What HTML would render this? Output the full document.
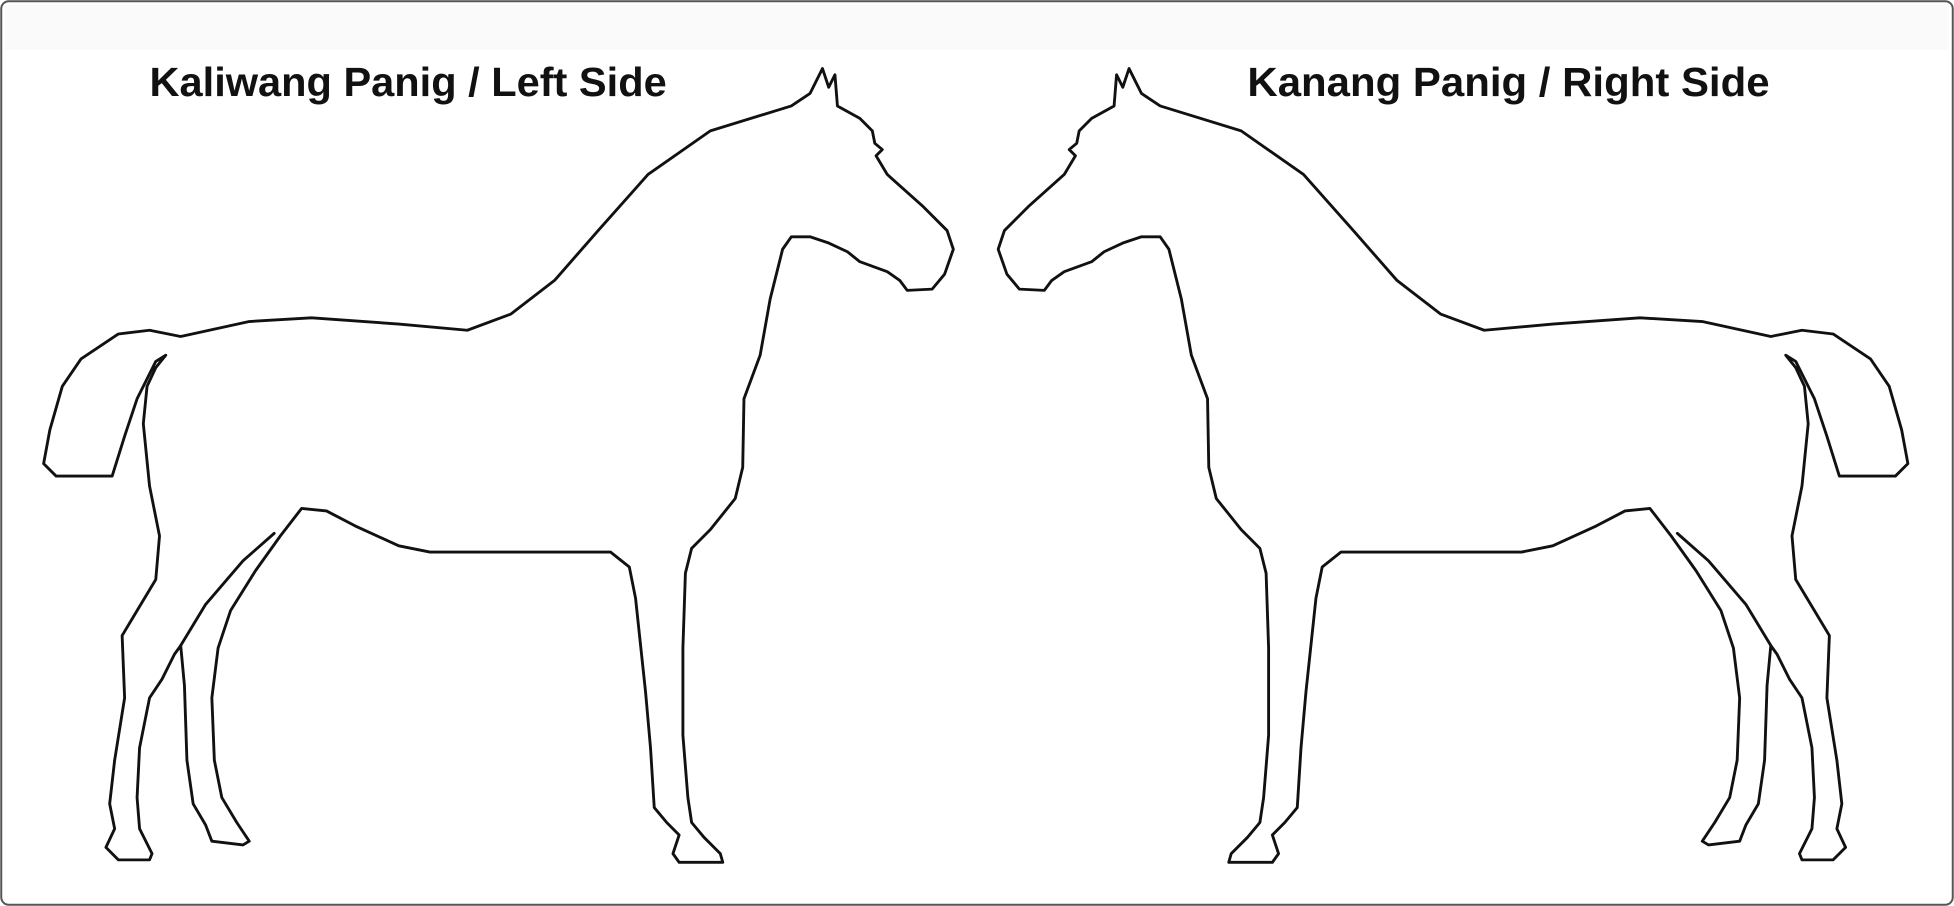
<!DOCTYPE html>
<html><head><meta charset="utf-8"><style>
html,body{margin:0;padding:0;background:#fff;}
svg{display:block;}
text{font-family:"Liberation Sans",sans-serif;font-weight:bold;fill:#111;}
</style></head><body>
<svg width="1954" height="906" viewBox="0 0 1568 727">
<rect x="1" y="1" width="1566" height="725" rx="6" fill="#fff" stroke="#555" stroke-width="1.6"/>
<rect x="4" y="4" width="1560" height="36" fill="#fafafa"/>
<text x="120" y="77" font-size="33" textLength="415" lengthAdjust="spacingAndGlyphs">Kaliwang Panig / Left Side</text>
<text x="1001" y="77" font-size="33" textLength="419" lengthAdjust="spacingAndGlyphs">Kanang Panig / Right Side</text>
<defs>
<g id="horse" fill="none" stroke="#111" stroke-width="2.3" stroke-linejoin="round" stroke-linecap="round">
<path d="M145,270 L200,258 L250,255 L320,260 L375,265 L410,252 L445,225 L480,185 L520,140 L570,105 L635,85 L650,75 L660,55 L665,70 L670,60 L672,85 L690,95 L700,105 L702,115 L708,120 L703,125 L712,140 L740,165 L760,185 L765,200 L758,220 L748,232 L728,233 L722,225 L712,218 L690,210 L680,202 L665,195 L650,190 L635,190 L628,200 L618,240 L610,285 L597,320 L596,375 L590,400 L570,425 L555,440 L550,460 L548,520 L548,590 L552,640 L555,660 L565,672 L578,685 L580,692 L545,692 L540,685 L545,670 L535,660 L525,648 L522,600 L518,555 L510,480 L505,455 L490,443 L345,443 L320,438 L285,422 L262,410 L242,408 L225,430 L205,458 L185,490 L175,520 L170,560 L172,610 L178,640 L190,660 L200,675 L195,678 L170,675 L165,662 L155,645 L150,610 L148,550 L145,518 L140,525 L130,545 L120,560 L112,600 L110,640 L112,665 L122,685 L120,690 L95,690 L85,680 L92,665 L88,645 L92,610 L100,560 L98,510 L110,490 L125,465 L128,430 L120,390 L115,340 L118,310 L125,295 L133,285 L125,290 L110,320 L100,350 L90,382 L45,382 L35,372 L40,345 L50,310 L65,288 L95,268 L120,265 Z"/>
<path d="M220,428 L195,450 L165,485 L145,518"/>
</g>
</defs>
<use href="#horse"/>
<use href="#horse" transform="translate(1566,0) scale(-1,1)"/>
</svg>
</body></html>
